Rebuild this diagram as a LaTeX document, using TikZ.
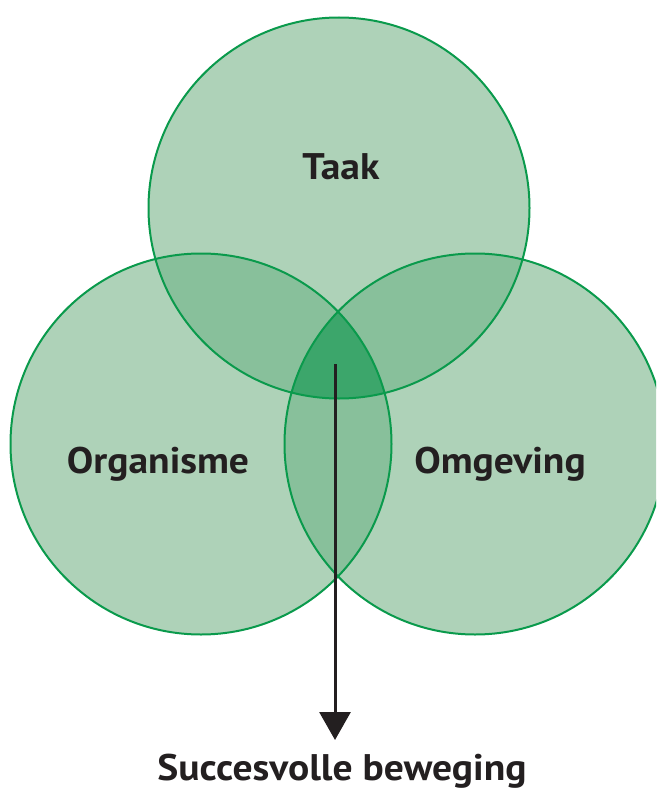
\documentclass[tikz,border=0pt]{standalone}
\usepackage{fontspec}
\setmainfont{PT Sans}[FakeStretch=1.07]
\usetikzlibrary{arrows.meta}
\definecolor{light}{HTML}{AED2B8}
\definecolor{mid}{HTML}{88C09B}
\definecolor{dark}{HTML}{3CA66B}
\definecolor{edge}{HTML}{0A9A4C}
\definecolor{ink}{HTML}{231F20}
\tikzset{
  ring/.style={draw=edge, line width=2pt},
  lbl/.style={anchor=base, text=ink, font=\bfseries\fontsize{37}{40}\selectfont, inner sep=0pt},
}
\begin{document}
\begin{tikzpicture}[x=1pt,y=-1pt]
\useasboundingbox (0,0) rectangle (656,792);
\clip (0,0) rectangle (656,792);
\def\T{(339,208) circle[radius=190.5]}
\def\L{(201,444) circle[radius=190.5]}
\def\R{(475,444) circle[radius=190.5]}
% base fills
\fill[light] \T; \fill[light] \L; \fill[light] \R;
% pairwise overlaps
\begin{scope}\clip \T; \fill[mid] \L; \fill[mid] \R;\end{scope}
\begin{scope}\clip \L; \fill[mid] \R;\end{scope}
% triple overlap
\begin{scope}\clip \T; \clip \L; \fill[dark] \R;\end{scope}
% outlines
\draw[ring] \T; \draw[ring] \L; \draw[ring] \R;
% labels
\node[lbl] (taak) at (341,179) {Taak};
\node[lbl] (org) at (158,473) {Organisme};
\node[lbl] (omg) at (500,473) {Omgeving};
\node[lbl] (succ) at (342,780) {Succesvolle beweging};
\coordinate (start) at (335,364);
\coordinate (tip) at (335,740);
\draw[ink, line width=3pt, -{Triangle[width=31pt,length=28pt]}] (start) -- (tip);
\end{tikzpicture}
\end{document}
